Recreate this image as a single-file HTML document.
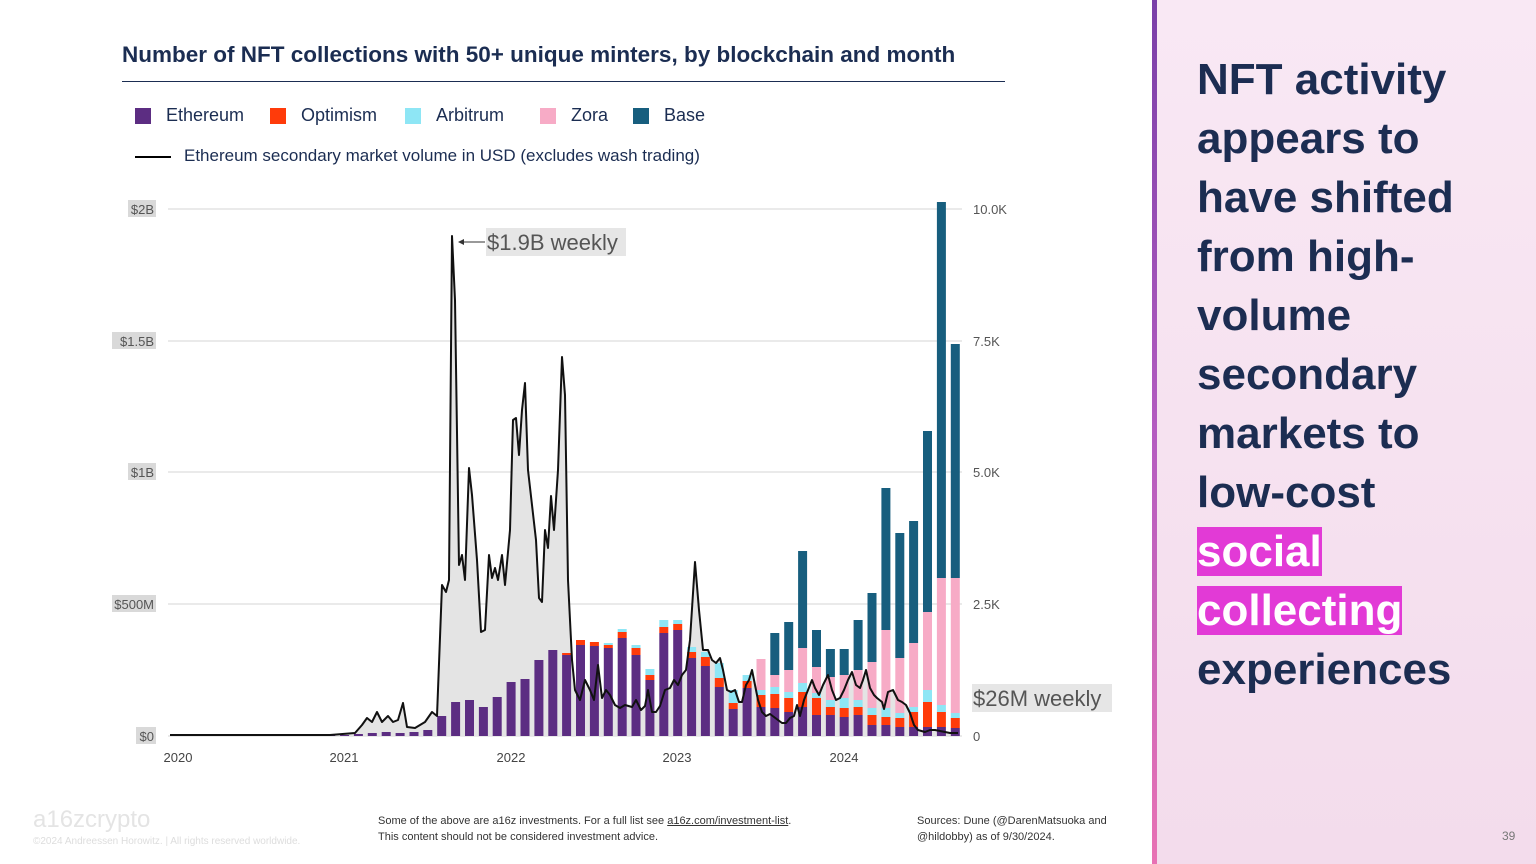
<!DOCTYPE html>
<html><head><meta charset="utf-8"><style>
body{margin:0;width:1536px;height:864px;overflow:hidden;background:#fff;font-family:"Liberation Sans",sans-serif;position:relative}
.t{position:absolute;white-space:nowrap}
#right{position:absolute;left:1152px;top:0;width:384px;height:864px;background:linear-gradient(180deg,#f9e8f4,#f3dcec)}
#bar{position:absolute;left:1152px;top:0;width:5px;height:864px;background:linear-gradient(180deg,#7a3fa8,#b45cc0 50%,#e872b4)}
#head{position:absolute;left:1197px;top:50px;font-size:44px;line-height:59px;font-weight:bold;color:#1c2d52}
.hl{background:#e23ad6;color:#fff}
</style></head><body>
<div class="t" style="left:122px;top:42px;font-size:22.5px;font-weight:bold;color:#1b2d52">Number of NFT collections with 50+ unique minters, by blockchain and month</div>
<div style="position:absolute;left:122px;top:81px;width:883px;height:1px;background:#1b2d52"></div>
<div style="position:absolute;left:135px;top:108px;width:16px;height:16px;background:#5c2d82"></div><div class="t" style="left:166px;top:105px;font-size:18px;color:#1b2d52">Ethereum</div>
<div style="position:absolute;left:270px;top:108px;width:16px;height:16px;background:#ff3b0a"></div><div class="t" style="left:301px;top:105px;font-size:18px;color:#1b2d52">Optimism</div>
<div style="position:absolute;left:405px;top:108px;width:16px;height:16px;background:#8ee6f5"></div><div class="t" style="left:436px;top:105px;font-size:18px;color:#1b2d52">Arbitrum</div>
<div style="position:absolute;left:540px;top:108px;width:16px;height:16px;background:#f7abc6"></div><div class="t" style="left:571px;top:105px;font-size:18px;color:#1b2d52">Zora</div>
<div style="position:absolute;left:633px;top:108px;width:16px;height:16px;background:#175e7e"></div><div class="t" style="left:664px;top:105px;font-size:18px;color:#1b2d52">Base</div>
<div style="position:absolute;left:135px;top:156px;width:36px;height:2px;background:#000"></div><div class="t" style="left:184px;top:146px;font-size:17px;color:#1b2d52">Ethereum secondary market volume in USD (excludes wash trading)</div>
<svg id="ch" width="1150" height="800" style="position:absolute;left:0;top:0" font-family="Liberation Sans, sans-serif"></svg>
<div class="t" style="left:33px;top:806px;font-size:24px;color:#e4e4e4">a16zcrypto</div>
<div class="t" style="left:33px;top:836px;font-size:10px;color:#ddd">©2024 Andreessen Horowitz. | All rights reserved worldwide.</div>
<div class="t" style="left:378px;top:813px;font-size:11px;line-height:16px;color:#333">Some of the above are a16z investments. For a full list see <u>a16z.com/investment-list</u>.<br>This content should not be considered investment advice.</div>
<div class="t" style="left:917px;top:813px;font-size:11px;line-height:16px;color:#333">Sources: Dune (@DarenMatsuoka and<br>@hildobby) as of 9/30/2024.</div>
<div id="right"></div><div id="bar"></div>
<div id="head">NFT activity<br>appears to<br>have shifted<br>from high-<br>volume<br>secondary<br>markets to<br>low-cost<br><span class="hl">social</span><br><span class="hl">collecting</span><br>experiences</div>
<div class="t" style="left:1502px;top:829px;font-size:12px;color:#777">39</div>
<script>
var s='';
var grid=[[209,'$2B','10.0K'],[341,'$1.5B','7.5K'],[472,'$1B','5.0K'],[604,'$500M','2.5K'],[736,'$0','0']];
grid.forEach(function(g){
 s+='<line x1="168" x2="962" y1="'+g[0]+'" y2="'+g[0]+'" stroke="#d6d6d6"/>';
 var w=g[1].length*8+4;
 s+='<rect x="'+(156-w)+'" y="'+(g[0]-9)+'" width="'+w+'" height="17" fill="#d9d9d9"/>';
 s+='<text x="154" y="'+(g[0]+5)+'" font-size="13" fill="#555" text-anchor="end">'+g[1]+'</text>';
 s+='<text x="973" y="'+(g[0]+5)+'" font-size="13" fill="#555">'+g[2]+'</text>';
});
var L=[[170,735],[330,735],[355,733],[362,725],[367,718],[372,722],[377,712],[382,722],[388,716],[393,722],[398,720],[403,703],[407,727],[415,728],[425,722],[432,712],[437,716],[442,585],[446,592],[449,580],[452,236],[455,300],[459,565],[462,555],[465,580],[469,468],[472,495],[477,560],[481,632],[485,630],[489,555],[492,578],[495,568],[498,580],[502,555],[505,585],[510,530],[513,420],[516,418],[519,455],[522,410],[525,383],[528,470],[532,505],[536,540],[539,598],[542,602],[545,530],[548,548],[551,496],[554,530],[558,470],[562,357],[565,395],[568,580],[572,660],[575,690],[580,700],[585,680],[590,690],[594,700],[598,665],[602,698],[606,690],[610,695],[615,705],[620,708],[625,705],[632,707],[636,700],[641,710],[645,706],[648,690],[652,712],[656,712],[660,706],[665,690],[670,688],[674,680],[678,685],[682,675],[686,670],[690,640],[695,562],[699,610],[703,650],[708,650],[712,660],[716,663],[720,658],[723,670],[727,690],[731,692],[735,690],[739,702],[742,702],[746,685],[749,680],[752,670],[755,685],[758,700],[762,712],[766,716],[770,714],[774,717],[778,720],[782,723],[786,723],[790,718],[794,716],[797,705],[800,716],[804,700],[808,690],[812,680],[815,688],[819,695],[823,685],[828,675],[832,690],[836,700],[840,698],[844,690],[848,680],[852,672],[856,685],[860,688],[863,680],[866,670],[870,688],[874,695],[877,698],[882,702],[884,709],[888,692],[893,690],[898,700],[902,702],[906,705],[910,713],[914,725],[918,730],[925,732],[930,730],[935,730],[940,731],[945,732],[950,733],[958,733]];
var pts=L.map(function(p){return p.join(',')}).join(' ');
s+='<polygon points="170,736 '+pts+' 958,736" fill="#e4e4e4"/>';
var D={0:[734],1:[735],2:[734],3:[735],4:[735],5:[735],6:[734],7:[735],8:[735],9:[735],10:[735],11:[735],12:[735],13:[734],14:[733],15:[732],16:[733],17:[732],18:[730],19:[716],20:[702],21:[700],22:[707],23:[697],24:[682],25:[679],26:[660],27:[650],28:[655,653],
29:[645,640],30:[646,642],31:[648,645,643],32:[638,632,629],33:[655,648,645],34:[680,675,669],35:[633,627,620],36:[630,624,620],37:[658,652,647],38:[666,657,652],39:[687,678,663],40:[709,703,690],41:[688,681,675],
42:[707,695,690,659],43:[708,694,687,675,633],44:[712,698,692,670,622],45:[707,692,683,648,551],46:[715,698,693,667,630],47:[715,707,700,677,649],48:[717,708,698,675,649],49:[715,707,700,670,620],50:[725,715,708,662,593],51:[725,717,708,630,488],52:[727,718,713,658,533],53:[727,712,707,643,521],54:[727,702,690,612,431],55:[727,712,705,578,202],56:[728,718,713,578,344]};
var C=['#5c2d82','#ff3b0a','#8ee6f5','#f7abc6','#175e7e'];
for(var i=0;i<=56;i++){var d=D[i],x=178+i*13.88-4.5,prev=736;
 d.forEach(function(t,k){if(t<prev){s+='<rect x="'+x.toFixed(1)+'" y="'+t+'" width="9" height="'+(prev-t)+'" fill="'+C[k]+'"/>';prev=t;}});}
s+='<polyline points="'+pts+'" fill="none" stroke="#111" stroke-width="2" stroke-linejoin="round"/>';
[['2020',178],['2021',344],['2022',511],['2023',677],['2024',844]].forEach(function(y){s+='<text x="'+y[1]+'" y="762" font-size="13" fill="#444" text-anchor="middle">'+y[0]+'</text>';});
s+='<rect x="486" y="228" width="140" height="28" fill="#e6e6e6"/><text x="487" y="250" font-size="22" fill="#555">$1.9B weekly</text>';
s+='<line x1="461" y1="242" x2="485" y2="242" stroke="#333"/><polygon points="458,242 464,239 464,245" fill="#333"/>';
s+='<rect x="972" y="684" width="140" height="28" fill="#e6e6e6"/><text x="973" y="706" font-size="22" fill="#555">$26M weekly</text>';
document.getElementById('ch').innerHTML=s;
</script>
</body></html>
